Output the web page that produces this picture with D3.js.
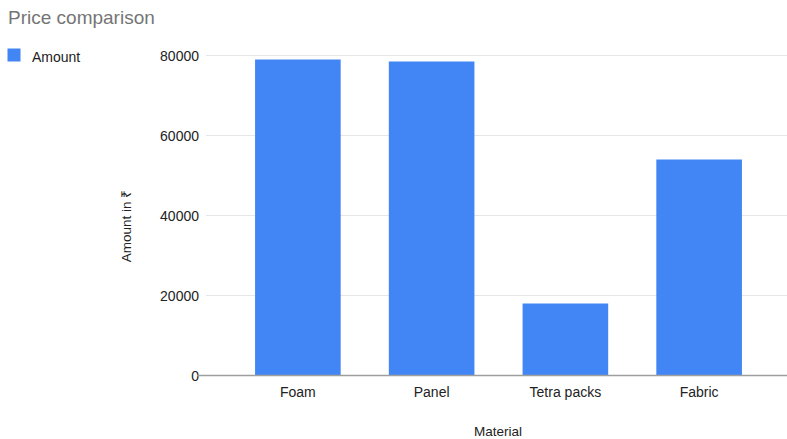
<!DOCTYPE html>
<html>
<head>
<meta charset="utf-8">
<script src="https://cdn.jsdelivr.net/npm/d3@7"></script>
<style>
  body { margin: 0; background: #fff; }
  text { font-family: "Liberation Sans", Arial, sans-serif; }
</style>
</head>
<body>
<div id="chart"></div>
<script>
// data
var categories = ["Foam", "Panel", "Tetra packs", "Fabric"];
var amounts = [79000, 78500, 18000, 54000];
var yTicks = [0, 20000, 40000, 60000, 80000];

var width = 787, height = 439;

var svg = d3.select("#chart").append("svg")
    .attr("width", width)
    .attr("height", height);

var x = d3.scaleBand()
    .domain(categories)
    .range([231, 766])
    .paddingInner(0.36)
    .paddingOuter(0.18);

var y = d3.scaleLinear()
    .domain([0, 80000])
    .range([375.5, 55.5]);

// gridlines
svg.append("g")
    .selectAll("line")
    .data(yTicks.filter(function(d) { return d > 0; }))
    .enter().append("line")
        .attr("x1", 206)
        .attr("x2", width)
        .attr("y1", function(d) { return y(d); })
        .attr("y2", function(d) { return y(d); })
        .attr("stroke", "#e6e6e6")
        .attr("stroke-width", 1);

// y tick labels
svg.append("g")
    .selectAll("text")
    .data(yTicks)
    .enter().append("text")
        .attr("x", 199)
        .attr("y", function(d) { return y(d) + 5; })
        .attr("text-anchor", "end")
        .attr("font-size", 14)
        .attr("fill", "#222")
        .text(function(d) { return d; });

// bars
svg.append("g")
    .selectAll("rect")
    .data(amounts)
    .enter().append("rect")
        .attr("x", function(d, i) { return x(categories[i]); })
        .attr("y", function(d) { return y(d); })
        .attr("width", x.bandwidth())
        .attr("height", function(d) { return y(0) - y(d); })
        .attr("fill", "#4285f4");

// baseline
svg.append("line")
    .attr("x1", 197)
    .attr("x2", width)
    .attr("y1", y(0))
    .attr("y2", y(0))
    .attr("stroke", "#9e9e9e")
    .attr("stroke-width", 1.3);

// x axis labels
var xAxis = svg.append("g")
    .attr("transform", "translate(0," + y(0) + ")")
    .call(d3.axisBottom(x).tickSize(0).tickPadding(11.5));
xAxis.select(".domain").remove();
xAxis.selectAll("text")
    .attr("font-size", 14)
    .attr("font-family", "Liberation Sans, Arial, sans-serif")
    .attr("fill", "#222");

// axis titles
svg.append("text")
    .attr("x", 498)
    .attr("y", 436)
    .attr("text-anchor", "middle")
    .attr("font-size", 13.5)
    .attr("fill", "#222")
    .text("Material");

svg.append("text")
    .attr("transform", "translate(131,226) rotate(-90)")
    .attr("text-anchor", "middle")
    .attr("font-size", 13.5)
    .attr("fill", "#222")
    .text("Amount in ₹");

// title
svg.append("text")
    .attr("x", 8)
    .attr("y", 23.5)
    .attr("font-size", 19)
    .attr("fill", "#757575")
    .text("Price comparison");

// legend
svg.append("rect")
    .attr("x", 7.5)
    .attr("y", 48.5)
    .attr("width", 13)
    .attr("height", 13)
    .attr("fill", "#4285f4");

svg.append("text")
    .attr("x", 32)
    .attr("y", 62)
    .attr("font-size", 14)
    .attr("fill", "#222")
    .text("Amount");
</script>
</body>
</html>
